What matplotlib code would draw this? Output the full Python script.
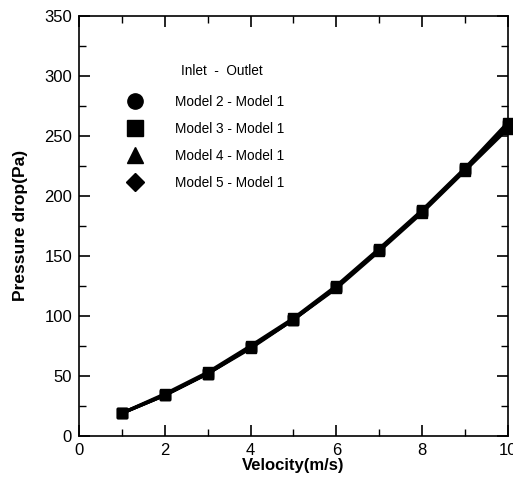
import matplotlib
matplotlib.use("Agg")
import matplotlib.pyplot as plt
from matplotlib.ticker import MultipleLocator
from matplotlib.lines import Line2D

plt.rcParams['font.family'] = ['Liberation Sans', 'DejaVu Sans']

velocity = [1, 2, 3, 4, 5, 6, 7, 8, 9, 10]
model2 = [19, 34, 52, 74, 97, 124, 155, 187, 222, 258]
model3 = [19, 34, 52, 73, 97, 123, 154, 186, 221, 256]
model4 = [19, 35, 53, 75, 98, 125, 156, 188, 223, 261]
model5 = [19, 34, 52, 74, 97, 124, 155, 187, 222, 259]
labels = ["Model 2 - Model 1", "Model 3 - Model 1", "Model 4 - Model 1", "Model 5 - Model 1"]
markers = ["o", "s", "^", "D"]
header = "Inlet  -  Outlet"

fig = plt.figure(figsize=(5.13, 4.82), dpi=100)
ax = fig.add_axes([0.154, 0.0954, 0.836, 0.872])

for ys in [model2, model3, model4, model5]:
    ax.plot(velocity, ys, color='black', lw=2.4, marker='s', ms=6.5, clip_on=False)

ax.set_xlim(0, 10)
ax.set_ylim(0, 350)
ax.xaxis.set_major_locator(MultipleLocator(2))
ax.xaxis.set_minor_locator(MultipleLocator(1))
ax.yaxis.set_major_locator(MultipleLocator(50))
ax.yaxis.set_minor_locator(MultipleLocator(25))
ax.tick_params(which='both', direction='in', top=True, right=True, labelsize=12)
ax.tick_params(which='major', length=8, width=1.2, pad=5)
ax.tick_params(which='minor', length=5, width=1)
for s in ax.spines.values():
    s.set_linewidth(1.2)

ax.set_xlabel("Velocity(m/s)", fontsize=12, fontweight='bold', labelpad=0)
ax.set_ylabel("Pressure drop(Pa)", fontsize=12.5, fontweight='bold', labelpad=12)

handles = [Line2D([], [], ls='none', marker=m, color='black', ms=11 if m != 'D' else 9) for m in markers]
ax.legend(handles, labels, loc='center left', bbox_to_anchor=(0.071, 0.699),
          frameon=False, fontsize=9.8, handletextpad=1.9, labelspacing=0.95,
          borderpad=0.4, handlelength=2.0)
ax.text(0.238, 0.869, header, transform=ax.transAxes, fontsize=9.8, va='center', ha='left')

fig.savefig("out.png", dpi=100)
